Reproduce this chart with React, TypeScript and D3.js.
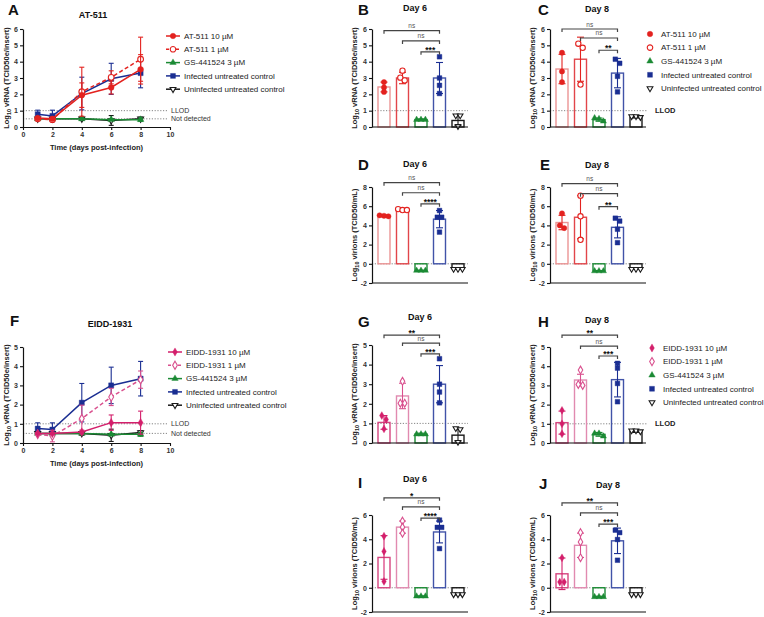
import React, { useRef, useEffect } from 'react';
import * as d3 from 'd3';

const FONT = 'Arial, "Liberation Sans", Helvetica, sans-serif';

const RED = '#e3221f';
const RED_BAR_HI = '#eb9494';
const RED_BAR_LO = '#e2454a';
const GREEN = '#1b8a34';
const BLUE = '#1a2e92';
const BLUE_BAR = '#4153a8';
const BLACK = '#1a1a1a';
const MAGENTA = '#d31f6b';
const PINK = '#d9508e';
const MAGENTA_BAR = '#d6457f';
const PINK_BAR = '#e18ab0';

// time course (days post-infection)
const days = [1, 2, 4, 6, 8];
const xTicks = [0, 2, 4, 6, 8, 10];

// A: AT-511, log10 vRNA over time (mean, SD)
const at511HighA = [0.55, 0.5, 1.95, 2.42, 3.53];
const at511HighErrA = [0.08, 0.08, 0.75, 0.4, 0.9];
const at511LowA = [0.5, 0.45, 2.16, 3.04, 4.15];
const at511LowErrA = [0.05, 0.1, 1.5, 0.4, 1.35];
const gsA = [0.5, 0.5, 0.5, 0.45, 0.45];
const gsErrA = [0.02, 0.02, 0.05, 0.05, 0.1];
const infectedA = [0.78, 0.68, 2.05, 2.95, 3.3];
const infectedErrA = [0.25, 0.35, 1.0, 0.95, 0.9];
const uninfectedA = [0.5, 0.5, 0.5, 0.4, 0.5];
const uninfectedErrA = [0.02, 0.02, 0.1, 0.3, 0.1];

// F: EIDD-1931, log10 vRNA over time (mean, SD)
const eiddHighF = [0.5, 0.5, 0.57, 1.06, 1.06];
const eiddHighErrF = [0.05, 0.05, 0.1, 0.4, 0.6];
const eiddLowF = [0.45, 0.36, 1.27, 2.4, 3.3];
const eiddLowErrF = [0.05, 0.3, 0.7, 0.45, 0.45];
const gsF = [0.5, 0.5, 0.5, 0.45, 0.45];
const gsErrF = [0.02, 0.02, 0.05, 0.05, 0.1];
const infectedF = [0.75, 0.7, 2.1, 3.0, 3.35];
const infectedErrF = [0.3, 0.35, 1.0, 0.95, 0.9];
const uninfectedF = [0.5, 0.5, 0.5, 0.4, 0.55];
const uninfectedErrF = [0.02, 0.02, 0.1, 0.32, 0.1];

// bar panels: group means, SD and individual replicates
const bMeans = [2.45, 3.0, 0.45, 3.0, 0.4];
const bSds = [0.3, 0.35, 0.05, 0.95, 0.3];
const bPoints = [[2.75, 2.42, 2.15], [3.45, 3.02, 2.85], [0.45, 0.45, 0.45], [4.3, 3.0, 2.55, 2.05], [0.7, 0.7, 0.05]];
const bSig = ['ns', 'ns', '***'];
const bSigLevels = [5.9, 5.27, 4.6];

const cMeans = [3.55, 4.15, 0.45, 3.3, 0.6];
const cSds = [0.9, 1.35, 0.1, 0.9, 0.05];
const cPoints = [[4.55, 3.4, 2.75], [5.1, 4.85, 2.6], [0.55, 0.5, 0.35], [4.15, 3.9, 3.1, 2.15], [0.65, 0.65, 0.6]];
const cSig = ['ns', 'ns', '**'];
const cSigLevels = [6.0, 5.45, 4.7];

const dMeans = [5.0, 5.6, -0.72, 4.65, -0.5];
const dSds = [0.1, 0.1, 0.05, 0.9, 0.05];
const dPoints = [[5.05, 5.0, 4.95], [5.7, 5.6, 5.6], [-0.7, -0.7, -0.7], [5.55, 4.85, 4.85, 3.3], [-0.55, -0.55, -0.55]];
const dSig = ['ns', 'ns', '****'];
const dSigLevels = [8.45, 7.4, 6.25];

const eMeans = [4.3, 4.85, -0.75, 3.8, -0.5];
const eSds = [0.75, 2.25, 0.05, 1.1, 0.05];
const ePoints = [[5.25, 4.0, 3.72], [7.1, 4.95, 2.5], [-0.75, -0.75, -0.75], [4.75, 4.45, 3.6, 2.2], [-0.55, -0.55, -0.55]];
const eSig = ['ns', 'ns', '**'];
const eSigLevels = [8.35, 7.3, 5.95];

const gMeans = [1.05, 2.4, 0.45, 3.0, 0.4];
const gSds = [0.35, 0.65, 0.05, 0.95, 0.3];
const gPoints = [[1.4, 1.2, 0.72], [3.15, 2.03, 2.03], [0.45, 0.45, 0.45], [4.3, 3.0, 2.6, 2.05], [0.75, 0.7, 0.05]];
const gSig = ['**', 'ns', '***'];
const gSigLevels = [5.5, 5.1, 4.55];

const hMeans = [1.06, 3.28, 0.45, 3.3, 0.6];
const hSds = [0.6, 0.3, 0.1, 0.9, 0.05];
const hPoints = [[1.7, 1.0, 0.48], [3.8, 3.05, 3.0], [0.5, 0.5, 0.35], [4.15, 3.9, 3.1, 2.15], [0.65, 0.65, 0.6]];
const hSig = ['**', 'ns', '***'];
const hSigLevels = [5.62, 5.05, 4.53];

const iMeans = [2.5, 5.0, -0.72, 4.6, -0.55];
const iSds = [1.8, 0.5, 0.05, 0.9, 0.05];
const iPoints = [[4.25, 3.0, 0.52], [5.5, 5.0, 4.5], [-0.7, -0.7, -0.7], [5.58, 4.98, 4.98, 3.23], [-0.55, -0.55, -0.55]];
const iSig = ['*', 'ns', '****'];
const iSigLevels = [7.42, 6.67, 5.75];

const jMeans = [1.15, 3.5, -0.75, 3.87, -0.5];
const jSds = [1.3, 1.0, 0.05, 1.05, 0.05];
const jPoints = [[2.47, 0.47, 0.47], [4.55, 3.78, 2.48], [-0.75, -0.75, -0.75], [4.75, 4.55, 3.98, 2.27], [-0.55, -0.55, -0.55]];
const jSig = ['**', 'ns', '***'];
const jSigLevels = [7.0, 6.17, 5.25];

const atLabels = ['AT-511 10 µM', 'AT-511 1 µM', 'GS-441524 3 µM', 'Infected untreated control', 'Uninfected untreated control'];
const eiddLabels = ['EIDD-1931 10 µM', 'EIDD-1931 1 µM', 'GS-441524 3 µM', 'Infected untreated control', 'Uninfected untreated control'];

const atGroups = [
  { color: RED, bar: RED_BAR_HI, symbol: d3.symbolCircle, scale: 1, filled: true, dashed: false },
  { color: RED, bar: RED_BAR_LO, symbol: d3.symbolCircle, scale: 1, filled: false, dashed: true },
  { color: GREEN, bar: GREEN, symbol: d3.symbolTriangle, scale: 0.75, filled: true, dashed: false },
  { color: BLUE, bar: BLUE_BAR, symbol: d3.symbolSquare, scale: 1, filled: true, dashed: false },
  { color: BLACK, bar: BLACK, symbol: d3.symbolTriangle, scale: 0.6, filled: false, flip: true, dashed: false },
];
const eiddGroups = [
  { color: MAGENTA, bar: MAGENTA_BAR, symbol: d3.symbolDiamond, scale: 0.8, filled: true, dashed: false },
  { color: PINK, bar: PINK_BAR, symbol: d3.symbolDiamond, scale: 0.8, filled: false, dashed: true },
  atGroups[2],
  atGroups[3],
  atGroups[4],
];

function marker(g, cx, cy, st, size) {
  g.append('path')
    .attr('d', d3.symbol().type(st.symbol).size(size * st.scale)())
    .attr('transform', `translate(${cx},${cy})${st.flip ? ' rotate(180)' : ''}`)
    .attr('fill', st.filled ? st.color : 'white')
    .attr('stroke', st.color)
    .attr('stroke-width', st.filled ? 0.4 : 1.1);
}

function errBar(g, cx, yHi, yLo, color, cap) {
  g.append('line').attr('x1', cx).attr('x2', cx).attr('y1', yHi).attr('y2', yLo)
    .attr('stroke', color).attr('stroke-width', 1.1);
  [yHi, yLo].forEach(v => {
    g.append('line').attr('x1', cx - cap / 2).attr('x2', cx + cap / 2).attr('y1', v).attr('y2', v)
      .attr('stroke', color).attr('stroke-width', 1.1);
  });
}

function yLabel(g, x, y, label) {
  const t = g.append('text')
    .attr('transform', `translate(${x},${y}) rotate(-90)`)
    .attr('text-anchor', 'middle')
    .attr('font-family', FONT).attr('font-size', 7.5).attr('font-weight', 'bold').attr('fill', '#222');
  t.append('tspan').text('Log');
  t.append('tspan').attr('font-size', 5.5).attr('dy', 2).text('10');
  t.append('tspan').attr('dy', -2).text(' ' + label);
}

function heading(g, p) {
  g.append('text').attr('x', p.letterX).attr('y', p.letterY).text(p.letter)
    .attr('font-family', FONT).attr('font-size', 15).attr('font-weight', 'bold').attr('fill', '#111');
  g.append('text').attr('x', p.titleX).attr('y', p.titleY).text(p.title)
    .attr('text-anchor', 'middle')
    .attr('font-family', FONT).attr('font-size', 9).attr('font-weight', 'bold').attr('fill', '#111');
}

function styleAxis(ax) {
  ax.select('.domain').attr('stroke', '#111').attr('stroke-width', 1.2);
  ax.selectAll('.tick line').attr('stroke', '#111').attr('stroke-width', 1.1);
  ax.selectAll('text').attr('font-family', FONT).attr('font-size', 7).attr('font-weight', 'bold').attr('fill', '#333');
}

function drawLinePanel(svg, p) {
  const g = svg.append('g');
  const x = d3.scaleLinear().domain([0, 10]).range([p.x0, p.x1]);
  const y = d3.scaleLinear().domain([0, p.yMax]).range([p.yBottom, p.yTop]);

  [[1, 'LLOD'], [0.5, 'Not detected']].forEach(([v, t]) => {
    g.append('line').attr('x1', x(0)).attr('x2', x(10) - 2).attr('y1', y(v)).attr('y2', y(v))
      .attr('stroke', '#777').attr('stroke-width', 0.9).attr('stroke-dasharray', '1.2,1.6');
    g.append('text').attr('x', x(10) + 1).attr('y', y(v)).attr('dy', '0.35em').text(t)
      .attr('font-family', FONT).attr('font-size', 7).attr('fill', '#333');
  });

  const xa = g.append('g').attr('transform', `translate(0,${p.yBottom})`)
    .call(d3.axisBottom(x).tickValues(xTicks).tickSize(3).tickSizeOuter(0).tickPadding(2));
  styleAxis(xa);
  const ya = g.append('g').attr('transform', `translate(${p.x0},0)`)
    .call(d3.axisLeft(y).ticks(p.yMax).tickSize(3).tickSizeOuter(0).tickPadding(2).tickFormat(d => String(d)));
  styleAxis(ya);

  const line = d3.line().x((d, i) => x(days[i])).y(d => y(d));
  // draw back to front: uninfected, GS, infected, low dose, high dose
  [4, 2, 3, 1, 0].forEach(k => {
    const s = p.series[k];
    g.append('path').attr('d', line(s.values)).attr('fill', 'none')
      .attr('stroke', s.color).attr('stroke-width', 1.5)
      .attr('stroke-dasharray', s.dashed ? '4,2.5' : null);
    s.values.forEach((v, i) => {
      errBar(g, x(days[i]), y(v + s.err[i]), y(Math.max(0, v - s.err[i])), s.color, 5);
    });
    s.values.forEach((v, i) => marker(g, x(days[i]), y(v), s, 26));
  });

  p.series.forEach((s, i) => {
    const ly = p.legendY + i * p.legendStep;
    g.append('line').attr('x1', p.legendX - 7).attr('x2', p.legendX + 7).attr('y1', ly).attr('y2', ly)
      .attr('stroke', s.color).attr('stroke-width', 1.5).attr('stroke-dasharray', s.dashed ? '3,2' : null);
    marker(g, p.legendX, ly, s, 24);
    g.append('text').attr('x', p.legendX + 11).attr('y', ly).attr('dy', '0.35em').text(p.labels[i])
      .attr('font-family', FONT).attr('font-size', 8).attr('fill', '#222');
  });

  g.append('text').attr('x', (p.x0 + p.x1) / 2).attr('y', p.xLabelY).text('Time (days post-infection)')
    .attr('text-anchor', 'middle').attr('font-family', FONT).attr('font-size', 7.5).attr('font-weight', 'bold').attr('fill', '#222');
  yLabel(g, p.x0 - 14, (p.yTop + p.yBottom) / 2, 'vRNA (TCID50e/insert)');
  heading(g, p);
}

function spread(vals, y, gap) {
  const order = vals.map((v, i) => i).sort((a, b) => vals[b] - vals[a]);
  const offs = vals.map(() => 0);
  let group = [];
  const flush = () => {
    group.forEach((gi, j) => { offs[gi] = (j - (group.length - 1) / 2) * gap; });
    group = [];
  };
  order.forEach(i => {
    if (group.length && Math.abs(y(vals[i]) - y(vals[group[group.length - 1]])) > gap) flush();
    group.push(i);
  });
  flush();
  return offs;
}

function drawBarPanel(svg, p) {
  const g = svg.append('g');
  const x = d3.scalePoint().domain(d3.range(5)).range([p.x0 + 12, p.x0 + 86]);
  const y = d3.scaleLinear().domain(p.yDomain).range([p.yBottom, p.yTop]);
  const xEnd = p.x0 + 96;

  g.append('line').attr('x1', p.x0).attr('x2', p.legend ? xEnd + 2 : xEnd).attr('y1', y(p.refLine)).attr('y2', y(p.refLine))
    .attr('stroke', '#777').attr('stroke-width', 0.9).attr('stroke-dasharray', '1.2,1.6');

  p.means.forEach((m, i) => {
    const st = p.groups[i];
    g.append('rect').attr('x', x(i) - 6).attr('width', 12)
      .attr('y', Math.min(y(0), y(m))).attr('height', Math.abs(y(0) - y(m)))
      .attr('fill', 'none').attr('stroke', st.bar).attr('stroke-width', 1.4);
    errBar(g, x(i), y(m + p.sds[i]), y(m - p.sds[i]), st.color, 7);
    const offs = spread(p.points[i], y, 4.4);
    p.points[i].forEach((v, j) => marker(g, x(i) + offs[j], y(v), st, 22));
  });

  const ya = g.append('g').attr('transform', `translate(${p.x0},0)`)
    .call(d3.axisLeft(y).tickValues(p.yTicks).tickSize(3).tickSizeOuter(0).tickPadding(2).tickFormat(d => String(d)));
  styleAxis(ya);
  g.append('line').attr('x1', p.x0).attr('x2', xEnd).attr('y1', p.yBottom).attr('y2', p.yBottom)
    .attr('stroke', '#111').attr('stroke-width', 1.2);

  p.sig.forEach((lab, k) => {
    const by = y(p.sigLevels[k]);
    const x1 = x(k);
    const x2 = x(3);
    g.append('path').attr('d', `M${x1},${by + 3}V${by}H${x2}V${by + 3}`)
      .attr('fill', 'none').attr('stroke', '#444').attr('stroke-width', 1.2);
    const isNs = lab === 'ns';
    g.append('text').attr('x', (x1 + x2) / 2).attr('y', isNs ? by - 2.5 : by + 1)
      .attr('text-anchor', 'middle').text(lab)
      .attr('font-family', FONT).attr('font-size', isNs ? 6.5 : 8.5).attr('font-weight', isNs ? 'normal' : 'bold')
      .attr('fill', isNs ? '#555' : '#111');
  });

  if (p.legend) {
    p.groups.forEach((st, i) => {
      const ly = p.legendY + i * 13.6;
      marker(g, p.legendX, ly, st, 24);
      g.append('text').attr('x', p.legendX + 11).attr('y', ly).attr('dy', '0.35em').text(p.labels[i])
        .attr('font-family', FONT).attr('font-size', 8).attr('fill', '#222');
    });
    g.append('text').attr('x', xEnd + 9).attr('y', y(p.refLine)).attr('dy', '0.35em').text('LLOD')
      .attr('font-family', FONT).attr('font-size', 7.5).attr('font-weight', 'bold').attr('fill', '#222');
  }

  yLabel(g, p.x0 - 15, (p.yTop + p.yBottom) / 2, p.yText);
  heading(g, p);
}

const seriesOf = (groups, vals, errs) => groups.map((st, i) => ({ ...st, values: vals[i], err: errs[i] }));

export default function App() {
  const ref = useRef(null);

  useEffect(() => {
    const svg = d3.select(ref.current);
    svg.selectAll('*').remove();

    drawLinePanel(svg, {
      letter: 'A', letterX: 8, letterY: 15, title: 'AT-511', titleX: 93, titleY: 18,
      x0: 23, x1: 170, yTop: 29, yBottom: 127, yMax: 6, xLabelY: 150,
      legendX: 173, legendY: 36, legendStep: 13.3, labels: atLabels,
      series: seriesOf(atGroups,
        [at511HighA, at511LowA, gsA, infectedA, uninfectedA],
        [at511HighErrA, at511LowErrA, gsErrA, infectedErrA, uninfectedErrA]),
    });
    drawLinePanel(svg, {
      letter: 'F', letterX: 10, letterY: 326, title: 'EIDD-1931', titleX: 110, titleY: 327,
      x0: 23, x1: 170, yTop: 347, yBottom: 443, yMax: 5, xLabelY: 466,
      legendX: 175, legendY: 352, legendStep: 13.3, labels: eiddLabels,
      series: seriesOf(eiddGroups,
        [eiddHighF, eiddLowF, gsF, infectedF, uninfectedF],
        [eiddHighErrF, eiddLowErrF, gsErrF, infectedErrF, uninfectedErrF]),
    });

    const vrna = 'vRNA (TCID50e/insert)';
    const vir = 'virions (TCID50/mL)';
    drawBarPanel(svg, {
      letter: 'B', letterX: 358, letterY: 15, title: 'Day 6', titleX: 415, titleY: 11,
      x0: 372, yDomain: [0, 6], yTop: 29, yBottom: 127, yTicks: d3.range(0, 7), refLine: 1,
      means: bMeans, sds: bSds, points: bPoints, sig: bSig, sigLevels: bSigLevels, groups: atGroups, yText: vrna,
    });
    drawBarPanel(svg, {
      letter: 'C', letterX: 538, letterY: 15, title: 'Day 8', titleX: 597, titleY: 12,
      x0: 550, yDomain: [0, 6], yTop: 29, yBottom: 127, yTicks: d3.range(0, 7), refLine: 1,
      means: cMeans, sds: cSds, points: cPoints, sig: cSig, sigLevels: cSigLevels, groups: atGroups, yText: vrna,
      legend: true, legendX: 650, legendY: 34, labels: atLabels,
    });
    drawBarPanel(svg, {
      letter: 'D', letterX: 358, letterY: 170, title: 'Day 6', titleX: 415, titleY: 167,
      x0: 372, yDomain: [-2, 8], yTop: 187, yBottom: 283, yTicks: d3.range(-2, 9, 2), refLine: 0,
      means: dMeans, sds: dSds, points: dPoints, sig: dSig, sigLevels: dSigLevels, groups: atGroups, yText: vir,
    });
    drawBarPanel(svg, {
      letter: 'E', letterX: 540, letterY: 170, title: 'Day 8', titleX: 597, titleY: 168,
      x0: 550, yDomain: [-2, 8], yTop: 187, yBottom: 283, yTicks: d3.range(-2, 9, 2), refLine: 0,
      means: eMeans, sds: eSds, points: ePoints, sig: eSig, sigLevels: eSigLevels, groups: atGroups, yText: vir,
    });
    drawBarPanel(svg, {
      letter: 'G', letterX: 358, letterY: 327, title: 'Day 6', titleX: 420, titleY: 320,
      x0: 372, yDomain: [0, 5], yTop: 345, yBottom: 443, yTicks: d3.range(0, 6), refLine: 1,
      means: gMeans, sds: gSds, points: gPoints, sig: gSig, sigLevels: gSigLevels, groups: eiddGroups, yText: vrna,
    });
    drawBarPanel(svg, {
      letter: 'H', letterX: 538, letterY: 327, title: 'Day 8', titleX: 597, titleY: 323,
      x0: 550, yDomain: [0, 5], yTop: 347, yBottom: 443, yTicks: d3.range(0, 6), refLine: 1,
      means: hMeans, sds: hSds, points: hPoints, sig: hSig, sigLevels: hSigLevels, groups: eiddGroups, yText: vrna,
      legend: true, legendX: 652, legendY: 348, labels: eiddLabels,
    });
    drawBarPanel(svg, {
      letter: 'I', letterX: 358, letterY: 488, title: 'Day 6', titleX: 415, titleY: 482,
      x0: 372, yDomain: [-2, 6], yTop: 515, yBottom: 612, yTicks: d3.range(-2, 7, 2), refLine: 0,
      means: iMeans, sds: iSds, points: iPoints, sig: iSig, sigLevels: iSigLevels, groups: eiddGroups, yText: vir,
    });
    drawBarPanel(svg, {
      letter: 'J', letterX: 539, letterY: 489, title: 'Day 8', titleX: 608, titleY: 488,
      x0: 550, yDomain: [-2, 6], yTop: 515, yBottom: 612, yTicks: d3.range(-2, 7, 2), refLine: 0,
      means: jMeans, sds: jSds, points: jPoints, sig: jSig, sigLevels: jSigLevels, groups: eiddGroups, yText: vir,
    });
  }, []);

  return (
    <svg ref={ref} width={764} height={617}
      style={{ position: 'absolute', left: 0, top: 0, background: 'white', display: 'block' }} />
  );
}
